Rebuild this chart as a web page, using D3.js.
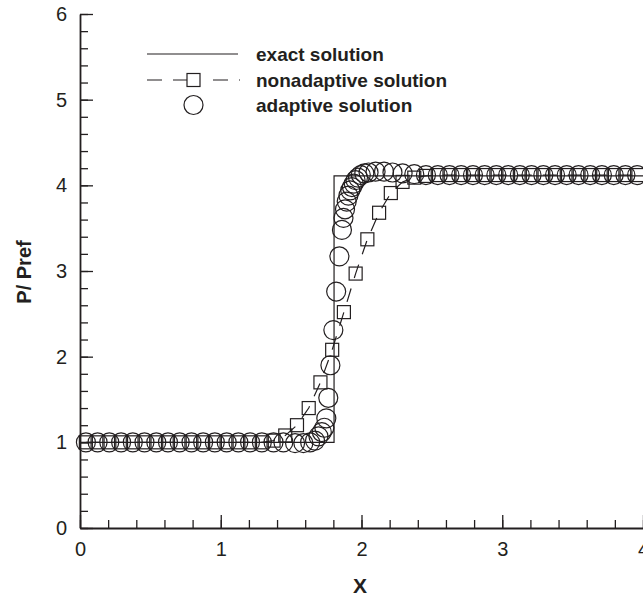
<!DOCTYPE html>
<html>
<head>
<meta charset="utf-8">
<script src="https://cdn.jsdelivr.net/npm/d3@7"></script>
<style>
  body { margin: 0; background: #fff; }
  svg { display: block; font-family: "Liberation Sans", Arial, sans-serif; }
</style>
</head>
<body>
<div id="chart"></div>
<script>
// Datos
const exactX = [0, 1.805, 1.805, 4.1];
const exactP = [1.0, 1.0, 4.11, 4.11];

// malla uniforme (centros de celda, dx = 1/12)
const nonadaptiveX = d3.range(48).map(k => (k + 0.5) / 12);
const nonadaptiveP = [
  1.0, 1.0, 1.0, 1.0, 1.0, 1.0, 1.0, 1.0, 1.0, 1.0,
  1.0, 1.0, 1.0, 1.0, 1.0, 1.0, 1.02, 1.08, 1.20, 1.40,
  1.70, 2.08, 2.52, 2.97, 3.37, 3.68, 3.91, 4.04, 4.09, 4.11,
  4.12, 4.12, 4.12, 4.12, 4.12, 4.12, 4.12, 4.12, 4.12, 4.12,
  4.12, 4.12, 4.12, 4.12, 4.12, 4.12, 4.12, 4.12
];

const adaptiveX = [
  0.042, 0.125, 0.208, 0.292, 0.375, 0.458, 0.542, 0.625, 0.708, 0.792,
  0.875, 0.958, 1.042, 1.125, 1.208, 1.292, 1.375, 1.445, 1.528, 1.587,
  1.635, 1.670, 1.694, 1.718, 1.736, 1.750, 1.764, 1.779, 1.800, 1.820,
  1.843, 1.861, 1.872, 1.883, 1.895, 1.907, 1.920, 1.932, 1.945, 1.958,
  1.975, 1.995, 2.020, 2.050, 2.100, 2.160, 2.220, 2.292, 2.375, 2.458,
  2.542, 2.625, 2.708, 2.792, 2.875, 2.958, 3.042, 3.125, 3.208, 3.292,
  3.375, 3.458, 3.542, 3.625, 3.708, 3.792, 3.875, 3.958
];
const adaptiveP = [
  1.0, 1.0, 1.0, 1.0, 1.0, 1.0, 1.0, 1.0, 1.0, 1.0,
  1.0, 1.0, 1.0, 1.0, 1.0, 1.0, 1.0, 1.0, 0.99, 0.99,
  1.0, 1.02, 1.07, 1.12, 1.17, 1.28, 1.52, 1.90, 2.31, 2.76,
  3.17, 3.48, 3.62, 3.72, 3.81, 3.88, 3.94, 3.98, 4.02, 4.06,
  4.09, 4.12, 4.14, 4.15, 4.16, 4.16, 4.15, 4.14, 4.13, 4.12,
  4.12, 4.12, 4.12, 4.12, 4.12, 4.12, 4.12, 4.12, 4.12, 4.12,
  4.12, 4.12, 4.12, 4.12, 4.12, 4.12, 4.12, 4.12
];

const xTicks = [0, 1, 2, 3, 4];
const yTicks = [0, 1, 2, 3, 4, 5, 6];
const legendLabels = ["exact solution", "nonadaptive solution", "adaptive solution"];

// Tamaños
const WIDTH = 643;
const HEIGHT = 598;
const INK = "#231f20";

const svg = d3.select("#chart").append("svg")
    .attr("width", WIDTH)
    .attr("height", HEIGHT);

const x = d3.scaleLinear().domain([0, 4]).range([80, 643]);
const y = d3.scaleLinear().domain([0, 6]).range([528, 14]);

// Ejes: ticks menores (cada 0.2) y mayores, hacia adentro
svg.append("g")
    .attr("transform", `translate(0, ${y(0)})`)
    .call(d3.axisBottom(x).tickValues(d3.range(0, 4.01, 0.2)).tickSize(-8).tickFormat(""))
    .call(g => g.select(".domain").remove());
svg.append("g")
    .attr("transform", `translate(${x(0)}, 0)`)
    .call(d3.axisLeft(y).tickValues(d3.range(0, 6.01, 0.2)).tickSize(-8).tickFormat(""))
    .call(g => g.select(".domain").remove());

const xAxis = svg.append("g")
    .attr("transform", `translate(0, ${y(0)})`)
    .call(d3.axisBottom(x).tickValues(xTicks).tickSize(-13).tickSizeOuter(0).tickPadding(14).tickFormat(d3.format("d")));
const yAxis = svg.append("g")
    .attr("transform", `translate(${x(0)}, 0)`)
    .call(d3.axisLeft(y).tickValues(yTicks).tickSize(-13).tickSizeOuter(0).tickPadding(13).tickFormat(d3.format("d")));

svg.selectAll(".tick line").attr("stroke", INK).attr("stroke-width", 1.3);
svg.selectAll(".domain").attr("stroke", INK).attr("stroke-width", 1.8);
svg.selectAll(".tick text")
    .attr("fill", INK)
    .style("font-size", "20px")
    .style("font-family", "'Liberation Sans', Arial, sans-serif");

// Títulos de ejes
svg.append("text")
    .attr("x", 360)
    .attr("y", 593)
    .attr("text-anchor", "middle")
    .attr("fill", INK)
    .style("font-size", "21px")
    .style("font-weight", "bold")
    .text("X");

svg.append("text")
    .attr("transform", "translate(31, 272) rotate(-90)")
    .attr("text-anchor", "middle")
    .attr("fill", INK)
    .style("font-size", "20px")
    .style("font-weight", "bold")
    .text("P/ Pref");

// Solución exacta
const line = d3.line().x(d => x(d[0])).y(d => y(d[1]));
svg.append("path")
    .datum(d3.zip(exactX, exactP))
    .attr("d", line)
    .attr("fill", "none")
    .attr("stroke", INK)
    .attr("stroke-width", 1.2);

// Solución no adaptiva: línea discontinua + cuadrados
const nonData = d3.zip(nonadaptiveX, nonadaptiveP);
svg.append("path")
    .datum(nonData)
    .attr("d", line)
    .attr("fill", "none")
    .attr("stroke", INK)
    .attr("stroke-width", 1.2)
    .attr("stroke-dasharray", "14,11");

svg.append("g").selectAll("rect")
    .data(nonData)
    .join("rect")
    .attr("x", d => x(d[0]) - 6.5)
    .attr("y", d => y(d[1]) - 6.5)
    .attr("width", 13)
    .attr("height", 13)
    .attr("fill", "none")
    .attr("stroke", INK)
    .attr("stroke-width", 1.2);

// Solución adaptiva: círculos
svg.append("g").selectAll("circle")
    .data(d3.zip(adaptiveX, adaptiveP))
    .join("circle")
    .attr("cx", d => x(d[0]))
    .attr("cy", d => y(d[1]))
    .attr("r", 9.5)
    .attr("fill", "none")
    .attr("stroke", INK)
    .attr("stroke-width", 1.2);

// Leyenda
const legend = svg.append("g");
const rowY = [54, 80, 105];

legend.append("line")
    .attr("x1", 147).attr("x2", 238)
    .attr("y1", rowY[0]).attr("y2", rowY[0])
    .attr("stroke", INK).attr("stroke-width", 1.2);

legend.append("line")
    .attr("x1", 147).attr("x2", 240)
    .attr("y1", rowY[1]).attr("y2", rowY[1])
    .attr("stroke", INK).attr("stroke-width", 1.2)
    .attr("stroke-dasharray", "15,11,27,13");
legend.append("rect")
    .attr("x", 187).attr("y", rowY[1] - 6.5)
    .attr("width", 13).attr("height", 13)
    .attr("fill", "#fff")
    .attr("stroke", INK).attr("stroke-width", 1.2);

legend.append("circle")
    .attr("cx", 193.5).attr("cy", rowY[2])
    .attr("r", 9.5)
    .attr("fill", "none")
    .attr("stroke", INK).attr("stroke-width", 1.2);

legend.selectAll("text")
    .data(legendLabels)
    .join("text")
    .attr("x", 256)
    .attr("y", (d, i) => rowY[i])
    .attr("dy", "0.35em")
    .attr("fill", INK)
    .style("font-size", "19px")
    .style("font-weight", "bold")
    .text(d => d);
</script>
</body>
</html>
